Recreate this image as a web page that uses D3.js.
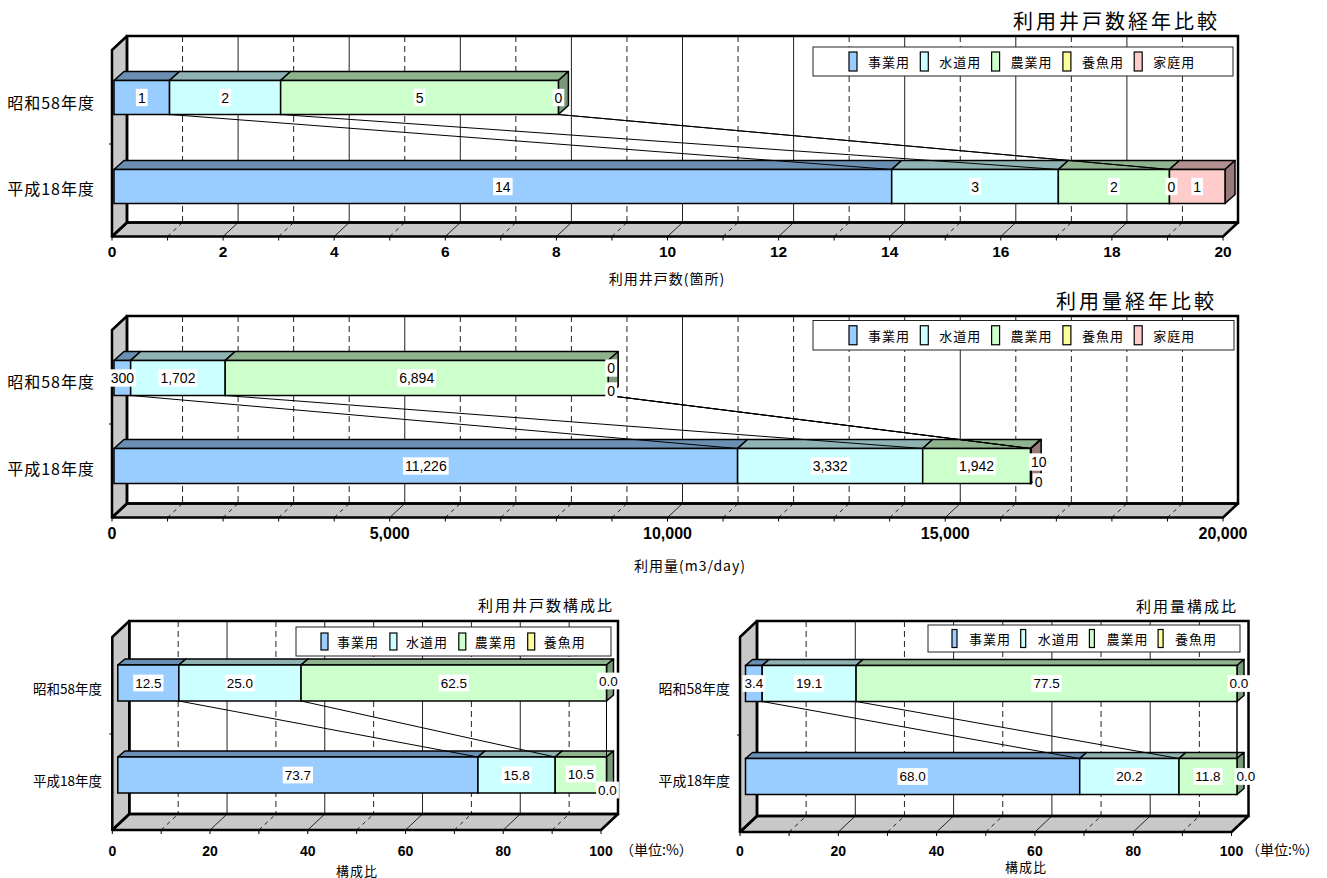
<!DOCTYPE html>
<html><head><meta charset="utf-8">
<script src="https://cdn.jsdelivr.net/npm/d3@7"></script>
<style>body{margin:0;background:#fff}svg{display:block}</style>
</head><body>
<svg id="c" width="1327" height="878"></svg>
<script>
// ---------- DATA ----------
const categories = ["昭和58年度", "平成18年度"];
const seriesNames = ["事業用", "水道用", "農業用", "養魚用", "家庭用"];
const seriesColors = ["#99CCFF", "#CCFFFF", "#CCFFCC", "#FFFF99", "#FFCCCC"];

const wellsShowa = [1, 2, 5, 0, null];
const wellsHeisei = [14, 3, 2, 0, 1];
const usageShowa = [300, 1702, 6894, 0, 0];
const usageHeisei = [11226, 3332, 1942, 0, 10];
const wellRatioShowa = [12.5, 25.0, 62.5, 0.0];
const wellRatioHeisei = [73.7, 15.8, 10.5, 0.0];
const usageRatioShowa = [3.4, 19.1, 77.5, 0.0];
const usageRatioHeisei = [68.0, 20.2, 11.8, 0.0];

const wellTicks = [0, 2, 4, 6, 8, 10, 12, 14, 16, 18, 20];
const usageTicks = [0, 5000, 10000, 15000, 20000];
const ratioTicks = [0, 20, 40, 60, 80, 100];

const titles = ["利用井戸数経年比較", "利用量経年比較", "利用井戸数構成比", "利用量構成比"];
const axisTitles = ["利用井戸数(箇所)", "利用量(m3/day)", "構成比", "構成比"];
const unitLabel = "（単位:%）";

// ---------- DRAW ----------
const svg = d3.select("#c");
const JP = "'Noto Sans CJK JP','Noto Sans',sans-serif";
const AR = "'Liberation Sans',Arial,sans-serif";

function scaleColor(c, k) {
  const r = d3.rgb(c);
  return d3.rgb(r.r * k, r.g * k, r.b * k).formatHex();
}

function chart(cfg) {
  const g = svg.append("g");
  const x = d3.scaleLinear().domain([0, cfg.max]).range([cfg.xf0, cfg.xf1]);
  const y = d3.scaleBand().domain(categories).range(cfg.catRange);
  const [DX, DY] = cfg.depth;
  const backTop = cfg.wallTopY - DY, backBot = cfg.floorY - DY;
  const x0 = x(0), x1 = x(cfg.max);
  const minor = d3.range(cfg.minorStep, cfg.max, cfg.minorStep);
  const isMajor = v => Math.abs(v / cfg.majorStep - Math.round(v / cfg.majorStep)) < 1e-9;

  // back wall
  g.append("rect").attr("x", x0 + DX).attr("y", backTop)
    .attr("width", x1 - x0).attr("height", backBot - backTop).attr("fill", "#fff");
  g.selectAll(".bg").data(minor).join("line")
    .attr("x1", d => x(d) + DX).attr("x2", d => x(d) + DX)
    .attr("y1", backTop).attr("y2", backBot)
    .attr("stroke", "#222").attr("stroke-width", 1)
    .attr("stroke-dasharray", d => isMajor(d) ? null : "6,4");
  // floor
  g.append("path").attr("d", `M${x0},${cfg.floorY}L${x1},${cfg.floorY}L${x1 + DX},${backBot}L${x0 + DX},${backBot}Z`)
    .attr("fill", "#C8C8C8");
  g.selectAll(".fg").data(minor).join("line")
    .attr("x1", d => x(d)).attr("y1", cfg.floorY)
    .attr("x2", d => x(d) + DX).attr("y2", backBot)
    .attr("stroke", "#222").attr("stroke-width", 1)
    .attr("stroke-dasharray", d => isMajor(d) ? null : "4,4");
  // left wall
  g.append("path").attr("d", `M${x0},${cfg.wallTopY}L${x0 + DX},${backTop}L${x0 + DX},${backBot}L${x0},${cfg.floorY}Z`)
    .attr("fill", "#C8C8C8");
  // outlines
  g.append("rect").attr("x", x0 + DX).attr("y", backTop)
    .attr("width", x1 - x0).attr("height", backBot - backTop)
    .attr("fill", "none").attr("stroke", "#000").attr("stroke-width", 2.5);
  g.append("path").attr("d", `M${x0},${cfg.floorY}L${x1},${cfg.floorY}L${x1 + DX},${backBot}L${x0 + DX},${backBot}Z`)
    .attr("fill", "none").attr("stroke", "#000").attr("stroke-width", 2.5).attr("stroke-linejoin", "round");
  g.append("path").attr("d", `M${x0},${cfg.wallTopY}L${x0 + DX},${backTop}L${x0 + DX},${backBot}L${x0},${cfg.floorY}Z`)
    .attr("fill", "none").attr("stroke", "#000").attr("stroke-width", 2.5).attr("stroke-linejoin", "round");

  // front axis ticks
  const allTicks = [0, ...minor, cfg.max];
  g.selectAll(".tk").data(allTicks).join("line")
    .attr("x1", d => x(d)).attr("x2", d => x(d))
    .attr("y1", cfg.floorY).attr("y2", cfg.floorY + 4)
    .attr("stroke", "#000").attr("stroke-width", 1);
  // category boundary tick on left wall
  const yMid = (y(categories[0]) + y.bandwidth() + y(categories[1])) / 2;
  g.append("line").attr("x1", x0 - 3).attr("x2", x0).attr("y1", yMid).attr("y2", yMid)
    .attr("stroke", "#000").attr("stroke-width", 1);

  // tick labels
  g.selectAll(".tl").data(cfg.ticks).join("text")
    .attr("x", d => x(d)).attr("y", cfg.tickLabelY)
    .attr("text-anchor", "middle").attr("dominant-baseline", "central")
    .attr("font-family", AR).attr("font-weight", "bold").attr("font-size", cfg.tickFont)
    .text(d => cfg.tickFmt(d));

  // bars
  const [ox, oy] = cfg.barFront;
  const [bx, by] = cfg.barDepth;
  const bh = cfg.barH;
  const rows = cfg.values.map((vals, ci) => {
    let cum = 0;
    return vals.map((v, si) => {
      const s = cum;
      if (v != null) cum += v;
      return { v, si, ci, s, e: cum };
    });
  });
  const faceCenter = ci => y(categories[ci]) + y.bandwidth() / 2 - oy;
  rows.forEach((segs, ci) => {
    const yt = faceCenter(ci) - bh / 2, yb = yt + bh;
    segs.forEach(sg => {
      if (sg.v == null || sg.v === 0) return;
      const xs = x(sg.s) + ox, xe = x(sg.e) + ox;
      const col = seriesColors[sg.si];
      const bar = g.append("g");
      bar.append("path").attr("d", `M${xs},${yt}L${xe},${yt}L${xe + bx},${yt - by}L${xs + bx},${yt - by}Z`)
        .attr("fill", scaleColor(col, 0.7)).attr("stroke", "#000").attr("stroke-width", 1.5).attr("stroke-linejoin", "round");
      bar.append("path").attr("d", `M${xe},${yt}L${xe + bx},${yt - by}L${xe + bx},${yb - by}L${xe},${yb}Z`)
        .attr("fill", scaleColor(col, 0.6)).attr("stroke", "#000").attr("stroke-width", 1.5).attr("stroke-linejoin", "round");
      bar.append("rect").attr("x", xs).attr("y", yt).attr("width", Math.max(0, xe - xs)).attr("height", bh)
        .attr("fill", col).attr("stroke", "#000").attr("stroke-width", 1.5);
    });
  });

  // series lines
  const ybA = faceCenter(0) + bh / 2, ytB = faceCenter(1) - bh / 2;
  rows[0].forEach((sa, si) => {
    const sb = rows[1][si];
    if (sa.v == null || sb.v == null) return;
    g.append("line").attr("x1", x(sa.e) + ox).attr("y1", ybA)
      .attr("x2", x(sb.e) + ox).attr("y2", ytB)
      .attr("stroke", "#000").attr("stroke-width", 1);
  });

  // data labels
  rows.forEach((segs, ci) => {
    segs.forEach(sg => {
      if (sg.v == null) return;
      const nd = cfg.nudge[ci + "-" + sg.si] || [0, 0];
      const cx = (x(sg.s) + x(sg.e)) / 2 + ox + nd[0];
      const cy = faceCenter(ci) + nd[1];
      const lg = g.append("g");
      const r = lg.append("rect").attr("fill", "#fff");
      const t = lg.append("text").attr("x", cx).attr("y", cy)
        .attr("text-anchor", "middle").attr("dominant-baseline", "central")
        .attr("font-family", AR).attr("font-size", cfg.labelFont).attr("fill", "#000")
        .text(cfg.labelFmt(sg.v));
      const w = t.node().getComputedTextLength();
      r.attr("x", cx - w / 2 - 2).attr("y", cy - cfg.labelFont * 0.62)
        .attr("width", w + 4).attr("height", cfg.labelFont * 1.24);
    });
  });

  // category labels
  categories.forEach((c, ci) => {
    g.append("text").attr("x", cfg.catLabelX).attr("y", cfg.catLabelY[ci])
      .attr("text-anchor", "end").attr("dominant-baseline", "central")
      .attr("font-family", JP).attr("font-size", cfg.catFont)
      .attr("letter-spacing", cfg.catLs).text(c);
  });

  // legend
  const L = cfg.legend;
  g.append("rect").attr("x", L.x).attr("y", L.y).attr("width", L.w).attr("height", L.h)
    .attr("fill", "#fff").attr("stroke", "#222").attr("stroke-width", 1);
  cfg.values[0].forEach((_, si) => {
    const mx = L.mx + si * L.step;
    g.append("rect").attr("x", mx).attr("y", L.y + (L.h - L.mh) / 2).attr("width", L.mw).attr("height", L.mh)
      .attr("fill", seriesColors[si]).attr("stroke", "#000").attr("stroke-width", 1.2);
    g.append("text").attr("x", mx + L.tx).attr("y", L.y + L.h / 2)
      .attr("dominant-baseline", "central").attr("font-family", JP).attr("font-size", L.font)
      .attr("letter-spacing", 1).text(seriesNames[si]);
  });

  // title
  g.append("text").attr("x", cfg.title.x).attr("y", cfg.title.y)
    .attr("text-anchor", "end").attr("dominant-baseline", "central")
    .attr("font-family", JP).attr("font-size", cfg.title.size).attr("font-weight", 400)
    .attr("letter-spacing", cfg.title.ls).text(cfg.title.text);
  // axis title
  g.append("text").attr("x", cfg.axisTitle.x).attr("y", cfg.axisTitle.y)
    .attr("text-anchor", "middle").attr("dominant-baseline", "central")
    .attr("font-family", JP).attr("font-size", cfg.axisTitle.size)
    .attr("letter-spacing", 1).text(cfg.axisTitle.text);
  if (cfg.unit) {
    g.append("text").attr("x", cfg.unit.x).attr("y", cfg.unit.y)
      .attr("dominant-baseline", "central").attr("font-family", JP).attr("font-size", 14)
      .text(unitLabel);
  }
}

const fmtInt = d3.format(",");
const fmt1 = d3.format(".1f");

chart({
  xf0: 112, xf1: 1223, max: 20, majorStep: 2, minorStep: 1, ticks: wellTicks,
  floorY: 236.5, wallTopY: 50, depth: [15, 14], catRange: [55, 233],
  barFront: [2, 2], barDepth: [10, 9], barH: 34,
  values: [wellsShowa, wellsHeisei], tickFmt: fmtInt, labelFmt: fmtInt,
  tickLabelY: 251, tickFont: 15.5, labelFont: 14,
  nudge: {"1-3": [2, 0]},
  catLabelX: 95, catLabelY: [102, 188], catFont: 16, catLs: 1,
  legend: {x: 813, y: 47, w: 420, h: 29, mx: 849, step: 71.3, mw: 8, mh: 19, tx: 19, font: 13},
  title: {text: titles[0], x: 1220, y: 20, size: 20, ls: 3},
  axisTitle: {text: axisTitles[0], x: 667, y: 278, size: 14}
});

chart({
  xf0: 112, xf1: 1223, max: 20000, majorStep: 5000, minorStep: 1000, ticks: usageTicks,
  floorY: 517.5, wallTopY: 330, depth: [15, 14], catRange: [336, 512],
  barFront: [2, 2], barDepth: [10, 9], barH: 35,
  values: [usageShowa, usageHeisei], tickFmt: fmtInt, labelFmt: fmtInt,
  tickLabelY: 533, tickFont: 16, labelFont: 14,
  nudge: {"0-3": [3, -10], "0-4": [3, 13], "1-3": [8, 16], "1-4": [8, -4]},
  catLabelX: 95, catLabelY: [381, 468], catFont: 16, catLs: 1,
  legend: {x: 813, y: 320.5, w: 421, h: 29.5, mx: 849, step: 71.3, mw: 8, mh: 19, tx: 19, font: 13},
  title: {text: titles[1], x: 1217, y: 300, size: 20, ls: 3},
  axisTitle: {text: axisTitles[1], x: 690, y: 565, size: 14}
});

chart({
  xf0: 112.3, xf1: 601, max: 100, majorStep: 20, minorStep: 10, ticks: ratioTicks,
  floorY: 830, wallTopY: 637, depth: [17, 16], catRange: [642, 826],
  barFront: [5.5, 5], barDepth: [7, 6], barH: 36,
  values: [wellRatioShowa, wellRatioHeisei], tickFmt: d3.format("d"), labelFmt: fmt1,
  tickLabelY: 851, tickFont: 14, labelFont: 13.5,
  nudge: {"0-3": [2, -2], "1-2": [0, -1], "1-3": [1, 15]},
  catLabelX: 102, catLabelY: [688, 780], catFont: 13.5, catLs: 0,
  legend: {x: 296, y: 627, w: 315, h: 29, mx: 321, step: 68.9, mw: 7, mh: 17, tx: 16, font: 13},
  title: {text: titles[2], x: 614, y: 604, size: 15, ls: 2},
  axisTitle: {text: axisTitles[2], x: 357, y: 870, size: 13},
  unit: {x: 620, y: 849}
});

chart({
  xf0: 740, xf1: 1231.5, max: 100, majorStep: 20, minorStep: 10, ticks: ratioTicks,
  floorY: 832, wallTopY: 637, depth: [17, 16], catRange: [642, 828],
  barFront: [5.5, 5], barDepth: [7, 6], barH: 36,
  values: [usageRatioShowa, usageRatioHeisei], tickFmt: d3.format("d"), labelFmt: fmt1,
  tickLabelY: 851, tickFont: 14, labelFont: 13.5,
  nudge: {"0-3": [2, 0], "1-3": [9, 0]},
  catLabelX: 730, catLabelY: [688, 780], catFont: 14, catLs: 0,
  legend: {x: 928, y: 625, w: 312, h: 27, mx: 952, step: 68.7, mw: 5, mh: 18, tx: 17, font: 13},
  title: {text: titles[3], x: 1238, y: 605, size: 15, ls: 2},
  axisTitle: {text: axisTitles[3], x: 1026, y: 866, size: 13},
  unit: {x: 1246, y: 849}
});
</script>
</body></html>
